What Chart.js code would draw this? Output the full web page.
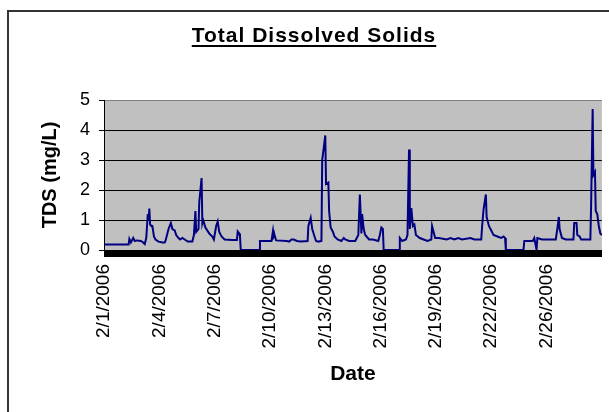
<!DOCTYPE html>
<html>
<head>
<meta charset="utf-8">
<script src="https://cdn.jsdelivr.net/npm/chart.js@4.4.0/dist/chart.umd.min.js"></script>
<style>
html, body { margin: 0; padding: 0; background: #fff; }
#wrap { position: relative; width: 609px; height: 412px; overflow: hidden; }
#frame { position: absolute; left: 7px; top: 10px; width: 700px; height: 500px; border: 2px solid #333; box-sizing: border-box; }
canvas { position: absolute; left: 0; top: 0; }
</style>
</head>
<body>
<div id="wrap">
  <div id="frame"></div>
  <canvas id="tds-chart" width="609" height="412"></canvas>
</div>
<script>
// Hour index since 2/1/2006 00:00 (one category per hourly sample)
const hours = [
  0, 32, 33, 35, 38, 40, 43, 48, 51, 53,
  55, 57, 58, 59, 60, 61, 63, 65, 67, 71,
  76, 79, 80, 84, 87, 89, 92, 94, 97, 99,
  102, 105, 109, 115, 117, 119, 120, 121, 123, 124,
  127, 128, 129, 132, 137, 141, 143, 146, 148, 150,
  153, 157, 167, 173, 174, 176, 177, 178, 202, 203,
  218, 220, 221, 222, 224, 238, 241, 244, 247, 251,
  256, 265, 266, 269, 271, 274, 276, 279, 283, 284,
  286, 288, 289, 292, 293, 295, 298, 300, 304, 309,
  312, 314, 319, 327, 331, 333, 335, 336, 338, 340,
  345, 350, 357, 359, 361, 363, 364, 384, 385, 388,
  393, 395, 397, 398, 400, 402, 404, 406, 411, 416,
  421, 426, 427, 429, 431, 436, 446, 451, 456, 461,
  466, 477, 482, 491, 492, 494, 497, 498, 501, 503,
  507, 512, 517, 520, 522, 523, 546, 547, 558, 560,
  563, 564, 570, 588, 590, 592, 593, 596, 601, 611,
  612, 615, 616, 619, 621, 633, 634, 636, 637, 639,
  640, 642, 644, 646, 648
];

// TDS (mg/L)
const tds = [
  0.18, 0.18, 0.37, 0.25, 0.4, 0.3, 0.32, 0.3, 0.25, 0.2,
  0.4, 1.2, 1.0, 1.38, 0.85, 0.82, 0.8, 0.45, 0.35, 0.28,
  0.25, 0.25, 0.3, 0.7, 0.9, 0.7, 0.65, 0.5, 0.4, 0.35,
  0.4, 0.35, 0.28, 0.28, 0.5, 1.3, 0.6, 0.6, 0.7, 1.6,
  2.4, 0.9, 1.0, 0.75, 0.55, 0.45, 0.35, 0.8, 0.95, 0.6,
  0.45, 0.35, 0.33, 0.33, 0.62, 0.55, 0.45, 0, 0, 0.3,
  0.3, 0.65, 0.45, 0.5, 0.32, 0.3, 0.28, 0.35, 0.35, 0.3,
  0.28, 0.3, 0.8, 1.07, 0.7, 0.45, 0.3, 0.28, 0.3, 3.0,
  3.4, 3.82, 2.2, 2.25, 1.3, 0.75, 0.6, 0.45, 0.35, 0.3,
  0.4, 0.35, 0.3, 0.3, 0.5, 1.85, 0.55, 1.2, 0.7, 0.5,
  0.35, 0.35, 0.3, 0.5, 0.75, 0.7, 0, 0, 0.4, 0.3,
  0.35, 0.5, 3.35, 0.7, 1.4, 0.8, 0.85, 0.5, 0.4, 0.35,
  0.3, 0.35, 0.8, 0.6, 0.4, 0.4, 0.35, 0.4, 0.35, 0.4,
  0.35, 0.4, 0.35, 0.35, 0.75, 1.35, 1.85, 1.1, 0.8, 0.7,
  0.5, 0.45, 0.4, 0.45, 0.4, 0, 0, 0.3, 0.3, 0.4,
  0, 0.4, 0.35, 0.35, 0.7, 1.1, 0.7, 0.4, 0.35, 0.35,
  0.9, 0.9, 0.5, 0.45, 0.35, 0.35, 1.5, 4.7, 2.5, 2.6,
  1.3, 1.2, 0.8, 0.55, 0.5
];

// Category labels shown on the date axis
const tickHours = [0, 72, 144, 216, 288, 360, 432, 504, 576];
const tickLabels = ["2/1/2006", "2/4/2006", "2/7/2006", "2/10/2006", "2/13/2006",
  "2/16/2006", "2/19/2006", "2/22/2006", "2/26/2006"];

const titleText = "Total Dissolved Solids";
const family = "Arial, 'Liberation Sans', sans-serif";

function labelFor(v) {
  const i = tickHours.indexOf(v);
  return i >= 0 ? tickLabels[i] : "";
}

// gray plot area like Excel
const plotBackground = {
  id: "plotBackground",
  beforeDraw(chart) {
    const { ctx, chartArea: a } = chart;
    ctx.save();
    ctx.fillStyle = "#c0c0c0";
    ctx.fillRect(a.left, a.top, a.right - a.left, a.bottom - a.top);
    ctx.restore();
  }
};

// underlined title
const underlinedTitle = {
  id: "underlinedTitle",
  afterDraw(chart) {
    const ctx = chart.ctx;
    ctx.save();
    ctx.font = "bold 21px " + family;
    ctx.letterSpacing = "1px";
    ctx.fillStyle = "#000";
    ctx.textAlign = "center";
    ctx.textBaseline = "alphabetic";
    ctx.fillText(titleText, 314, 42);
    const w = ctx.measureText(titleText).width;
    ctx.fillRect(314 - w / 2, 45, w, 2);
    ctx.restore();
  }
};

const ctx = document.getElementById("tds-chart").getContext("2d");
new Chart(ctx, {
  type: "line",
  data: {
    datasets: [{
      label: "TDS",
      data: hours.map((h, i) => ({ x: h, y: tds[i] })),
      borderColor: "#000080",
      borderWidth: 2,
      pointRadius: 0,
      fill: false,
      tension: 0
    }]
  },
  options: {
    responsive: false,
    animation: false,
    layout: { padding: { left: 38, top: 100, right: 7, bottom: 25 } },
    plugins: {
      legend: { display: false },
      tooltip: { enabled: false }
    },
    scales: {
      x: {
        type: "linear",
        min: 0,
        max: 648,
        ticks: {
          stepSize: 1,
          autoSkip: false,
          minRotation: 90,
          maxRotation: 90,
          padding: 7,
          color: "#000",
          font: (c) => ({ family: family, size: c.tick && labelFor(c.tick.value) ? 19 : 0.1 }),
          callback: (v) => labelFor(v)
        },
        grid: { drawOnChartArea: false, drawTicks: true, tickLength: 7, color: "#000", lineWidth: 1 },
        border: { color: "#000", width: 1 },
        title: { display: true, text: "Date", color: "#000", padding: 0,
          font: { family: family, size: 21, weight: "bold" } },
        afterFit(scale) { scale.height = 137; }
      },
      y: {
        min: 0,
        max: 5,
        ticks: { stepSize: 1, color: "#000", padding: 9, font: { family: family, size: 18 } },
        grid: {
          color: (c) => (c.tick && c.tick.value === 5 ? "#808080" : "#000"),
          lineWidth: 1,
          tickLength: 5,
          tickColor: "#000"
        },
        border: { color: "#000", width: 1 },
        title: { display: true, text: "TDS (mg/L)", color: "#000", padding: 0,
          font: { family: family, size: 20, weight: "bold" } },
        afterFit(scale) { scale.width = 66; }
      }
    }
  },
  plugins: [plotBackground, underlinedTitle]
});
</script>
</body>
</html>
